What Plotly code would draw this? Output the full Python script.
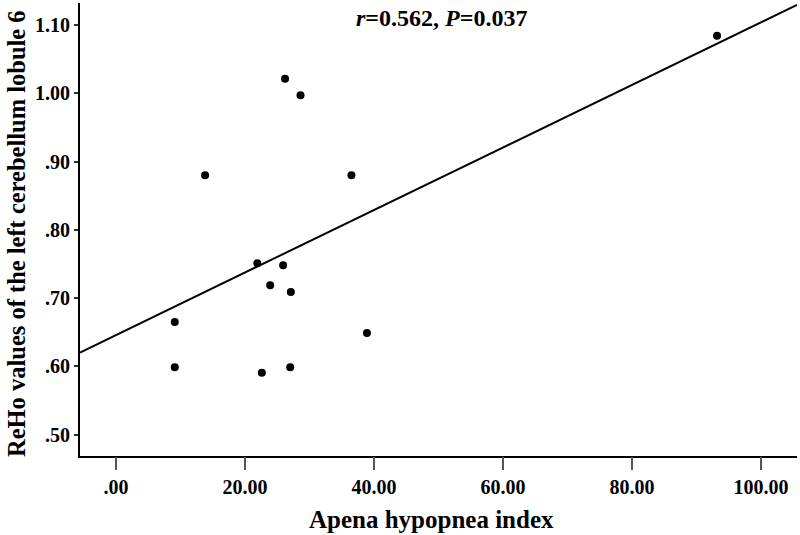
import numpy as np
import plotly.graph_objects as go

ahi = [9.1, 9.1, 13.8, 21.9, 22.6, 23.9, 25.9, 26.2, 27.0, 27.1, 28.6, 36.5, 38.9, 93.2]
reho = [0.665, 0.599, 0.880, 0.751, 0.591, 0.719, 0.748, 1.021, 0.599, 0.709, 0.997, 0.880, 0.649, 1.084]

x_ticks = [0, 20, 40, 60, 80, 100]
x_ticklabels = [".00", "20.00", "40.00", "60.00", "80.00", "100.00"]
y_ticks = [0.5, 0.6, 0.7, 0.8, 0.9, 1.0, 1.1]
y_ticklabels = [".50", ".60", ".70", ".80", ".90", "1.00", "1.10"]

x_range = [-5.6, 105.6]
y_range = [0.469, 1.132]

slope, intercept = np.polyfit(ahi, reho, 1)
fit_x = np.array(x_range)
fit_y = slope * fit_x + intercept

font = "Liberation Serif"
L, R, T, B = 80, 3, 3, 79
W, H = 800, 535
pw, ph = W - L - R, H - T - B

fig = go.Figure()
fig.add_trace(go.Scatter(x=fit_x, y=fit_y, mode="lines",
                         line=dict(color="black", width=2), showlegend=False, hoverinfo="skip"))
fig.add_trace(go.Scatter(x=ahi, y=reho, mode="markers",
                         marker=dict(color="black", size=8), showlegend=False))
# invisible trace to carry the tick-only overlay axis
fig.add_trace(go.Scatter(x=[], y=[], xaxis="x2", showlegend=False))

fig.update_layout(
    width=W, height=H,
    margin=dict(l=L, r=R, t=T, b=B),
    plot_bgcolor="white", paper_bgcolor="white",
    font=dict(family=font, color="black"),
    xaxis=dict(range=x_range, tickvals=x_ticks, ticktext=x_ticklabels, automargin=False,
               showgrid=False, zeroline=False, showline=True, linecolor="black", linewidth=2,
               ticks="", ticklabelstandoff=12,
               tickfont=dict(family=font, size=20, color="black", weight="bold")),
    xaxis2=dict(range=x_range, tickvals=x_ticks, overlaying="x", side="bottom", anchor="y",
                showticklabels=False, showgrid=False, zeroline=False, showline=False,
                ticks="outside", ticklen=13, tickwidth=1.5, tickcolor="#555", automargin=False),
    yaxis=dict(range=y_range, tickvals=y_ticks, ticktext=y_ticklabels, automargin=False,
               showgrid=False, zeroline=False, showline=True, linecolor="black", linewidth=2,
               ticks="outside", ticklen=4, tickwidth=1.5, tickcolor="#333",
               tickfont=dict(family=font, size=20, color="black", weight="bold")),
    annotations=[
        dict(text="<b><i>r</i>=0.562, <i>P</i>=0.037</b>", xref="paper", yref="paper",
             x=(441 - L) / pw, y=1 - (18 - T) / ph, xanchor="center", yanchor="middle",
             showarrow=False, font=dict(family=font, size=24, color="black")),
        dict(text="<b>ReHo values of the left cerebellum lobule 6</b>", xref="paper", yref="paper",
             x=(16 - L) / pw, y=1 - (234 - T) / ph, xanchor="center", yanchor="middle",
             textangle=-90, showarrow=False, font=dict(family=font, size=24.5, color="black")),
        dict(text="<b>Apena hypopnea index</b>", xref="paper", yref="paper",
             x=(431 - L) / pw, y=1 - (519 - T) / ph, xanchor="center", yanchor="middle",
             showarrow=False, font=dict(family=font, size=25, color="black")),
    ],
)

fig.write_html("out.html", config={"displayModeBar": False},
               post_script="document.body.style.margin='0';document.body.style.overflow='hidden';")
